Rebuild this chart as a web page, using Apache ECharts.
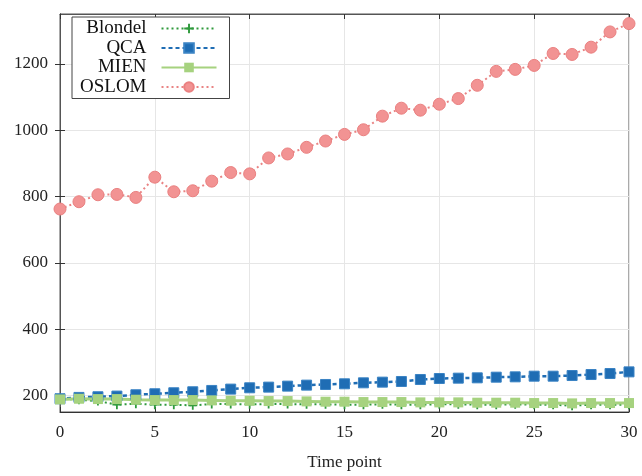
<!DOCTYPE html>
<html>
<head>
<meta charset="utf-8">
<script src="https://cdn.jsdelivr.net/npm/echarts@6/dist/echarts.min.js"></script>
<style>
  html, body { margin: 0; padding: 0; background: #fff; }
  #chart { width: 642px; height: 476px; }
</style>
</head>
<body>
<div id="chart"></div>
<script>
// Time points on the horizontal axis
const timePoints = [0, 1, 2, 3, 4, 5, 6, 7, 8, 9, 10, 11, 12, 13, 14, 15, 16, 17, 18, 19, 20, 21, 22, 23, 24, 25, 26, 27, 28, 29, 30];

// Values per method at each time point
const blondel = [190, 187, 183, 172, 175, 172, 172, 170, 174, 174, 173, 174, 174, 173, 173, 172, 172, 173, 172, 172, 173, 173, 172, 172, 173, 172, 172, 169, 172, 172, 172];
const qca     = [190, 194, 196, 198, 202, 205, 208, 211, 215, 219, 223, 225, 228, 231, 233, 235, 238, 240, 242, 248, 251, 252, 253, 255, 256, 258, 258, 260, 263, 266, 271];
const mien    = [188, 190, 189, 189, 187, 186, 186, 186, 185, 184, 184, 183, 183, 182, 181, 181, 180, 180, 180, 179, 179, 179, 178, 178, 178, 177, 177, 176, 177, 177, 177];
const oslom   = [762, 784, 805, 806, 797, 858, 814, 817, 846, 872, 868, 916, 928, 948, 967, 987, 1001, 1042, 1066, 1060, 1078, 1095, 1135, 1177, 1183, 1195, 1231, 1228, 1250, 1296, 1321];

// Axis ticks
const xTicks = [0, 5, 10, 15, 20, 25, 30];
const yTicks = [200, 400, 600, 800, 1000, 1200];

const FONT = "'Liberation Serif', 'DejaVu Serif', serif";

const pair = (vals) => vals.map((v, i) => [timePoints[i], v]);

// plus-shaped marker
const plusPath = 'path://M4,0H6V4H10V6H6V10H4V6H0V4H4Z';

const chart = echarts.init(document.getElementById('chart'), null, { renderer: 'canvas' });

const tickStyle = { inside: true, length: 5, lineStyle: { color: '#333', width: 1 } };
const plain = (v) => String(v);

chart.setOption({
  animation: false,
  backgroundColor: '#fff',
  grid: {
    left: 60, right: 13, top: 14, bottom: 58,
    show: true, borderColor: '#555', borderWidth: 1, backgroundColor: 'transparent'
  },
  legend: {
    left: 72, top: 17,
    orient: 'vertical',
    align: 'right',
    itemWidth: 55, itemHeight: 12, itemGap: 0.5,
    padding: [2, 12, 2, 8],
    borderColor: '#444', borderWidth: 1, backgroundColor: '#fff',
    textStyle: { fontFamily: FONT, fontSize: 19, lineHeight: 19, color: '#111', padding: [0, 10, 0, 0] },
    data: ['Blondel', 'QCA', 'MIEN', 'OSLOM']
  },
  xAxis: [{
    type: 'value', min: 0, max: 30, interval: 5,
    name: 'Time point', nameLocation: 'middle', nameGap: 42,
    nameTextStyle: { fontFamily: FONT, fontSize: 17, color: '#222' },
    axisLine: { show: true, onZero: false, lineStyle: { color: '#333' } },
    axisTick: tickStyle,
    axisLabel: { fontFamily: FONT, fontSize: 17, color: '#222', margin: 12, formatter: plain },
    splitLine: { show: true, lineStyle: { color: '#e6e6e6', width: 1 } }
  }, {
    type: 'value', min: 0, max: 30, interval: 5, position: 'top',
    axisLine: { show: true, lineStyle: { color: '#555' } },
    axisTick: tickStyle,
    axisLabel: { show: false },
    splitLine: { show: false }
  }],
  yAxis: [{
    type: 'value', min: 150, max: 1350,
    axisLine: { show: true, onZero: false, lineStyle: { color: '#222' } },
    axisTick: Object.assign({ customValues: yTicks }, tickStyle),
    axisLabel: { customValues: yTicks, fontFamily: FONT, fontSize: 17, color: '#222', margin: 12, formatter: plain },
    splitLine: { show: true, lineStyle: { color: '#e6e6e6', width: 1 } }
  }, {
    type: 'value', min: 150, max: 1350, position: 'right',
    axisLine: { show: true, lineStyle: { color: '#555' } },
    axisTick: Object.assign({ customValues: yTicks }, tickStyle),
    axisLabel: { show: false, customValues: yTicks },
    splitLine: { show: false }
  }],
  series: [
    {
      name: 'Blondel', type: 'line', data: pair(blondel),
      symbol: plusPath, symbolSize: 9,
      lineStyle: { color: '#2f9a3c', width: 2, type: [2, 3] },
      itemStyle: { color: '#2f9a3c' }
    },
    {
      name: 'QCA', type: 'line', data: pair(qca),
      symbol: 'rect', symbolSize: 10,
      lineStyle: { color: '#1f6db4', width: 2.5, type: [4, 3] },
      itemStyle: { color: '#1f6db4', borderColor: '#3a83c4', borderWidth: 1 }
    },
    {
      name: 'MIEN', type: 'line', data: pair(mien),
      symbol: 'rect', symbolSize: 10,
      lineStyle: { color: '#a6d27f', width: 3 },
      itemStyle: { color: '#a6d27f' }
    },
    {
      name: 'OSLOM', type: 'line', data: pair(oslom),
      symbol: 'circle', symbolSize: 12,
      lineStyle: { color: '#e98383', width: 2, type: [2, 3] },
      itemStyle: { color: '#f29393', borderColor: '#ea8080', borderWidth: 1 }
    }
  ]
});
</script>
</body>
</html>
